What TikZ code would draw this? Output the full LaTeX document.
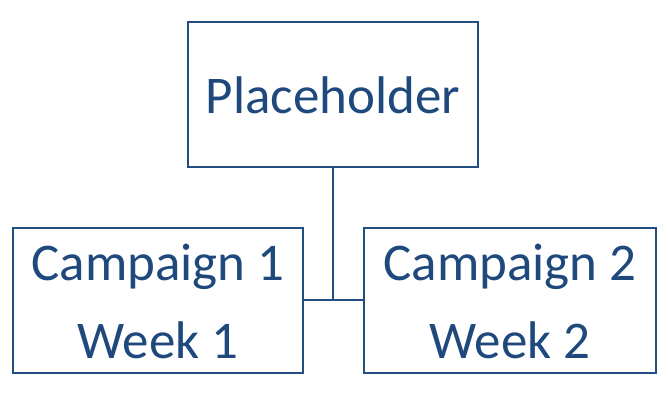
\documentclass[tikz,border=0pt]{standalone}
\usepackage{fontspec}
\setmainfont{Carlito}
\definecolor{boxblue}{RGB}{35,78,130}
\definecolor{txtblue}{RGB}{31,73,125}
\begin{document}
\begin{tikzpicture}[x=1pt,y=-1pt,
  box/.style={draw=boxblue,line width=2.4pt,fill=white,inner sep=0pt},
  lbl/.style={text=txtblue,font=\fontsize{53}{60}\selectfont,anchor=base,inner sep=0pt},
  conn/.style={draw=boxblue,line width=2.4pt}]
\useasboundingbox (0,0) rectangle (668,407);
\node[box,minimum width=290pt,minimum height=145pt] (top) at (333,94.5) {};
\node[box,minimum width=290pt,minimum height=145pt] (left) at (158,300.5) {};
\node[box,minimum width=292pt,minimum height=145pt] (right) at (510,300.5) {};
\coordinate (j) at (333,300);
\draw[conn] (top.south) -- (j);
\draw[conn] (left.east |- j) -- (right.west |- j);
\node[lbl] (t1) at (333,113) {Placeholder};
\node[lbl] (l1) at (158,280) {Campaign 1};
\node[lbl] (l2) at (158,358) {Week 1};
\node[lbl] (r1) at (510,280) {Campaign 2};
\node[lbl] (r2) at (510,358) {Week 2};
\end{tikzpicture}
\end{document}
